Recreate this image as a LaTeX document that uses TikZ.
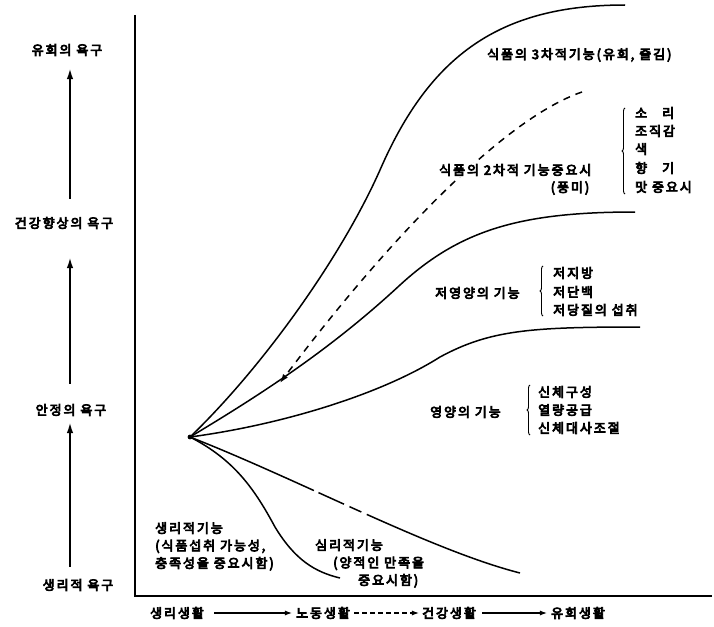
\documentclass[tikz,border=0pt]{standalone}
\usepackage{fontspec}
\setmainfont{Noto Sans CJK KR}[LetterSpace=15]
\newcommand{\heavytext}{\special{pdf:code 2 Tr 0.75 w}}
\usetikzlibrary{arrows.meta,decorations.pathreplacing}
\tikzset{
  lbl/.style={font=\fontsize{13}{17.5}\selectfont\heavytext, inner sep=0pt, align=left},
  curve/.style={line width=1.5pt},
  axisline/.style={line width=1.5pt},
  needarrow/.style={line width=2pt, -{Latex[length=11pt,width=6.5pt]}},
  lifearrow/.style={line width=1.1pt, -{Latex[length=7pt,width=5pt]}},
  lbrace/.style={line width=0.9pt, decorate, decoration={brace,amplitude=3pt}},
}
\begin{document}
\begin{tikzpicture}[x=1pt,y=-1pt]
\useasboundingbox (0,0) rectangle (714,626);
% axes
\coordinate (ax0) at (135,15);
\coordinate (ax1) at (135,596);
\coordinate (ax2) at (712,596);
\draw[axisline] (ax0) -- (ax1) -- (ax2);
% left needs
\coordinate (xL) at (70,0);
\node[lbl, anchor=center] (n4) at (67,50) {유희의 욕구};
\node[lbl, anchor=center] (n3) at (64,223) {건강향상의 욕구};
\node[lbl, anchor=center] (n2) at (71,410) {안정의 욕구};
\node[lbl, anchor=center] (n1) at (78,585) {생리적 욕구};
\draw[needarrow, shorten <=12pt, shorten >=6pt] (n1.north -| xL) -- (n2.south -| xL);
\draw[needarrow, shorten <=20pt, shorten >=28pt] (n2.north -| xL) -- (n3.south -| xL);
\draw[needarrow, shorten <=18pt, shorten >=12pt] (n3.north -| xL) -- (n4.south -| xL);
% origin and curves
\coordinate (O) at (190,437);
\fill (O) circle (2.4);
\coordinate (e1) at (625,5);
\coordinate (e2) at (635,212);
\coordinate (e3) at (640,327);
\coordinate (e5) at (340,578);
\coordinate (e6) at (520,573);
\coordinate (d0) at (582,92);
\coordinate (d1) at (280,383);
\draw[curve] (O) .. controls (260,370) and (340,260) .. (380,170) .. controls (430,55) and (500,5) .. (e1);
\draw[curve] (O) .. controls (260,395) and (330,350) .. (400,285) .. controls (460,230) and (520,212) .. (e2);
\draw[curve] (O) .. controls (280,425) and (380,395) .. (440,357) .. controls (490,330) and (530,327) .. (e3);
\draw[curve] (O) .. controls (235,460) and (255,490) .. (275,527) .. controls (295,560) and (315,572) .. (e5);
\draw[curve, dash pattern=on 135pt off 5pt on 28pt off 6pt on 13pt off 6pt on 400pt off 1pt] (O) .. controls (300,480) and (430,550) .. (e6);
\draw[curve, dash pattern=on 7pt off 6pt, -{Latex[length=9pt,width=6pt]}] (d0) .. controls (500,120) and (380,250) .. (d1);
% right labels
\node[lbl, anchor=west] (t3) at (487,55) {식품의 3차적기능(유희, 즐김)};
\node[lbl, anchor=west, fill=white, inner sep=1pt] (t2) at (438,170) {식품의 2차적 기능중요시};
\node[lbl, anchor=center] (t2b) at (570,188) {(풍미)};
\coordinate (b2a) at (625,194);
\coordinate (b2b) at (625,108);
\draw[lbrace] (b2a) -- (b2b);
\node[lbl, anchor=west] (s1) at (635,113) {소\hspace{15pt}리};
\node[lbl, anchor=west] (s2) at (635,131) {조직감};
\node[lbl, anchor=west] (s3) at (635,149) {색};
\node[lbl, anchor=west] (s4) at (635,168) {향\hspace{15pt}기};
\node[lbl, anchor=west] (s5) at (635,187) {맛 중요시};
\node[lbl, anchor=west] (t1) at (435,293) {저영양의 기능};
\coordinate (b1a) at (543,316);
\coordinate (b1b) at (543,266);
\draw[lbrace] (b1a) -- (b1b);
\node[lbl, anchor=west] (r1) at (553,273) {저지방};
\node[lbl, anchor=west] (r2) at (553,292) {저단백};
\node[lbl, anchor=west] (r3) at (553,310) {저당질의 섭취};
\node[lbl, anchor=west] (t0) at (430,412) {영양의 기능};
\coordinate (b0a) at (530,435);
\coordinate (b0b) at (530,385);
\draw[lbrace] (b0a) -- (b0b);
\node[lbl, anchor=west] (q1) at (538,392) {신체구성};
\node[lbl, anchor=west] (q2) at (538,410) {열량공급};
\node[lbl, anchor=west] (q3) at (538,428) {신체대사조절};
% bottom-left labels
\node[lbl, anchor=north west] (p1) at (155,522) {생리적기능\\(식품섭취 가능성,\\충족성을 중요시함)};
\node[lbl, anchor=north west] (p2) at (315,539) {심리적기능\\\hspace*{18pt}(양적인 만족을\\\hspace*{43pt}중요시함)};
% bottom life stages
\node[lbl, anchor=center] (l1) at (177,613) {생리생활};
\node[lbl, anchor=center] (l2) at (323,613) {노동생활};
\node[lbl, anchor=center] (l3) at (449,613) {건강생활};
\node[lbl, anchor=center] (l4) at (578,613) {유희생활};
\draw[lifearrow, shorten <=10pt, shorten >=4pt] (l1.east) -- (l2.west);
\draw[lifearrow, dash pattern=on 5pt off 3pt, shorten <=4pt, shorten >=3pt] (l2.east) -- (l3.west);
\draw[lifearrow, shorten <=6pt, shorten >=4pt] (l3.east) -- (l4.west);
\end{tikzpicture}
\end{document}
